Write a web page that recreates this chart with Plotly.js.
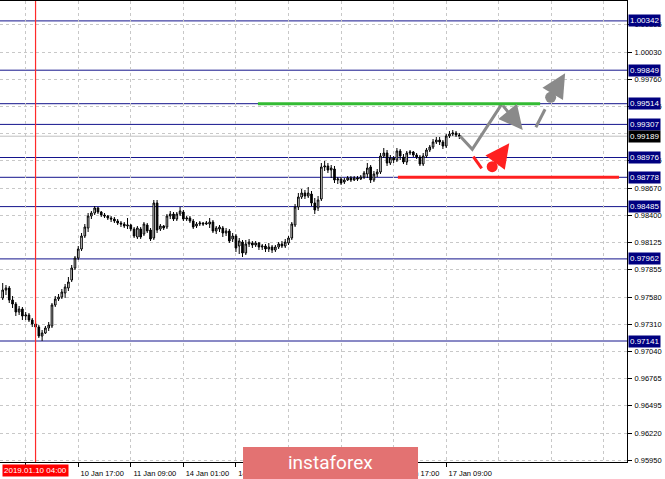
<!DOCTYPE html>
<html><head><meta charset="utf-8">
<script src="https://cdn.plot.ly/plotly-3.0.1.min.js"></script>
<style>html,body{margin:0;padding:0;background:#fff}#chart{width:665px;height:479px}</style>
</head><body><div id="chart"></div>
<script>
// EURCHF-like H1 candles, bar index 0 = 10 Jan 01:00 (weekend hours skipped)
const firstBar = -7;
const open  = [0.97571,0.97651,0.97671,0.97551,0.97511,0.97431,0.97461,0.97391,0.97401,0.97351,0.97311,0.97281,0.97191,0.97221,0.97271,0.97291,0.97501,0.97561,0.97581,0.97621,0.97671,0.97751,0.97871,0.97971,0.98061,0.98191,0.98271,0.98391,0.98421,0.98471,0.98431,0.98401,0.98391,0.98371,0.98361,0.98341,0.98321,0.98311,0.98291,0.98301,0.98261,0.98181,0.98261,0.98211,0.98301,0.98251,0.98171,0.98521,0.98261,0.98291,0.98281,0.98391,0.98411,0.98361,0.98411,0.98431,0.98361,0.98371,0.98341,0.98291,0.98311,0.98321,0.98311,0.98311,0.98331,0.98241,0.98261,0.98271,0.98221,0.98241,0.98161,0.98191,0.98091,0.98131,0.98021,0.98111,0.98121,0.98101,0.98121,0.98081,0.98091,0.98061,0.98081,0.98051,0.98081,0.98111,0.98091,0.98121,0.98171,0.98301,0.98481,0.98581,0.98621,0.98591,0.98611,0.98521,0.98471,0.98561,0.98881,0.98891,0.98851,0.98861,0.98751,0.98761,0.98731,0.98751,0.98771,0.98751,0.98771,0.98761,0.98781,0.98811,0.98881,0.98751,0.98811,0.98831,0.98991,0.99021,0.98921,0.98971,0.98951,0.99041,0.98981,0.98931,0.99021,0.99031,0.99001,0.98981,0.98911,0.98991,0.99051,0.99081,0.99131,0.99151,0.99131,0.99091,0.99191,0.99211,0.99221,0.99201];
const high  = [0.97721,0.97701,0.97691,0.97591,0.97531,0.97491,0.97481,0.97431,0.97421,0.97371,0.97341,0.97301,0.97251,0.97291,0.97331,0.97521,0.97591,0.97611,0.97661,0.97711,0.97781,0.97901,0.97991,0.98091,0.98221,0.98311,0.98421,0.98441,0.98491,0.98481,0.98441,0.98421,0.98401,0.98391,0.98381,0.98361,0.98341,0.98331,0.98371,0.98311,0.98281,0.98291,0.98281,0.98331,0.98321,0.98271,0.98551,0.98551,0.98311,0.98301,0.98411,0.98441,0.98431,0.98431,0.98481,0.98451,0.98391,0.98391,0.98361,0.98331,0.98341,0.98331,0.98341,0.98371,0.98351,0.98291,0.98301,0.98291,0.98271,0.98261,0.98221,0.98211,0.98171,0.98151,0.98151,0.98161,0.98141,0.98141,0.98131,0.98111,0.98111,0.98121,0.98101,0.98101,0.98131,0.98141,0.98161,0.98191,0.98331,0.98511,0.98621,0.98661,0.98651,0.98681,0.98641,0.98571,0.98591,0.98921,0.98941,0.98921,0.98901,0.98891,0.98781,0.98781,0.98771,0.98791,0.98791,0.98791,0.98791,0.98801,0.98841,0.98921,0.98901,0.98841,0.98861,0.99021,0.99071,0.99051,0.99001,0.98991,0.99071,0.99061,0.99011,0.99041,0.99051,0.99041,0.99021,0.99001,0.99021,0.99071,0.99101,0.99161,0.99181,0.99181,0.99151,0.99211,0.99241,0.99251,0.99241,0.99221];
const low   = [0.97551,0.97601,0.97521,0.97471,0.97391,0.97401,0.97351,0.97351,0.97331,0.97281,0.97251,0.97171,0.97141,0.97211,0.97241,0.97271,0.97481,0.97541,0.97561,0.97571,0.97641,0.97731,0.97851,0.97951,0.98041,0.98171,0.98231,0.98361,0.98401,0.98411,0.98381,0.98371,0.98351,0.98331,0.98321,0.98301,0.98281,0.98271,0.98261,0.98241,0.98171,0.98161,0.98161,0.98191,0.98221,0.98141,0.98151,0.98221,0.98241,0.98251,0.98261,0.98361,0.98341,0.98341,0.98391,0.98341,0.98341,0.98321,0.98261,0.98271,0.98291,0.98291,0.98301,0.98271,0.98221,0.98211,0.98231,0.98181,0.98191,0.98121,0.98131,0.98031,0.98011,0.97981,0.98001,0.98081,0.98071,0.98081,0.98051,0.98051,0.98031,0.98031,0.98021,0.98031,0.98061,0.98071,0.98071,0.98101,0.98151,0.98281,0.98451,0.98561,0.98561,0.98571,0.98491,0.98411,0.98441,0.98541,0.98841,0.98821,0.98771,0.98721,0.98711,0.98701,0.98711,0.98741,0.98731,0.98741,0.98741,0.98751,0.98761,0.98771,0.98721,0.98731,0.98781,0.98811,0.98971,0.98891,0.98901,0.98921,0.98931,0.98951,0.98911,0.98901,0.99001,0.98981,0.98961,0.98891,0.98891,0.98971,0.99031,0.99061,0.99111,0.99101,0.99061,0.99071,0.99171,0.99191,0.99181,0.99161];
const close = [0.97651,0.97671,0.97551,0.97511,0.97431,0.97461,0.97391,0.97401,0.97351,0.97311,0.97281,0.97191,0.97221,0.97271,0.97301,0.97501,0.97561,0.97581,0.97631,0.97681,0.97731,0.97871,0.97971,0.98061,0.98191,0.98281,0.98391,0.98421,0.98471,0.98431,0.98401,0.98391,0.98371,0.98361,0.98341,0.98321,0.98311,0.98291,0.98301,0.98261,0.98191,0.98271,0.98181,0.98311,0.98241,0.98161,0.98521,0.98251,0.98291,0.98271,0.98391,0.98411,0.98361,0.98411,0.98441,0.98361,0.98371,0.98341,0.98281,0.98311,0.98321,0.98311,0.98321,0.98331,0.98241,0.98271,0.98281,0.98221,0.98241,0.98141,0.98191,0.98071,0.98141,0.98021,0.98111,0.98131,0.98101,0.98121,0.98081,0.98091,0.98061,0.98081,0.98051,0.98081,0.98111,0.98091,0.98131,0.98171,0.98311,0.98481,0.98581,0.98621,0.98591,0.98621,0.98521,0.98451,0.98551,0.98881,0.98891,0.98851,0.98871,0.98751,0.98761,0.98721,0.98751,0.98771,0.98751,0.98771,0.98761,0.98781,0.98821,0.98871,0.98751,0.98811,0.98831,0.98991,0.99021,0.98921,0.98971,0.98951,0.99041,0.98991,0.98931,0.99021,0.99031,0.99001,0.98981,0.98911,0.98991,0.99051,0.99081,0.99131,0.99151,0.99131,0.99091,0.99191,0.99211,0.99221,0.99201,0.99191];

const xTickIdx  = [0, 16, 32, 48, 64, 80, 96, 112, 128];
const xTickText = ["","10 Jan 17:00","11 Jan 09:00","14 Jan 01:00","14 Jan 17:00","15 Jan 09:00","16 Jan 01:00","16 Jan 17:00","17 Jan 09:00"];
const xGridIdx  = [0, 16, 32, 48, 64, 80, 96, 112, 128, 144, 160, 176];
const yTickVals = [0.95950,0.96220,0.96495,0.96765,0.97040,0.97310,0.97580,0.97855,0.98125,0.98400,0.98670,0.98945,0.99485,0.99760,1.00030,1.00305];
const yGridVals = [0.95950,0.96220,0.96495,0.96765,0.97040,0.97310,0.97580,0.97855,0.98125,0.98400,0.98670,0.98945,0.99215,0.99485,0.99760,1.00030,1.00305];
const levels = [1.00342, 0.99849, 0.99514, 0.99307, 0.98976, 0.98778, 0.98485, 0.97962, 0.97141];
const currentPrice = 0.99189;
const cursorBar = 3, cursorLabel = "2019.01.10 04:00";
// forecast drawings (bar index, price)
const greenLineX = [70.7, 156.6], greenLineY = 0.99514;
const redLineX = [113.3, 180.6], redLineY = 0.98778;
const grayPathX = [132.2, 135.95, 144.9], grayPathY = [0.99191, 0.99058, 0.99510];
const grayArrow1 = {fromX: 144.9, fromY: 0.99510, toX: 151.3, toY: 0.99251};
const grayDashX = [155.3, 158.1], grayDashY = [0.99278, 0.99458];
const grayDot = {x: 159.8, y: 0.99578}, grayArrow2 = {toX: 164.2, toY: 0.99818};
const redSegX = [136.25, 138.8], redSegY = [0.98984, 0.98868];
const redDot = {x: 142.0, y: 0.98884}, redArrow = {toX: 147.2, toY: 0.99118};

const xs = open.map((_, k) => firstBar + k);
const F = 'Liberation Sans, Arial, sans-serif';
const NAVY = '#14148c', GRAY = '#8a8a8a', RED = '#ff2020';

const traces = [
  {type: 'candlestick', x: xs, open: open, high: high, low: low, close: close,
   increasing: {line: {color: '#000', width: 1}, fillcolor: '#ffffff'},
   decreasing: {line: {color: '#000', width: 1}, fillcolor: '#000000'},
   whiskerwidth: 0, hoverinfo: 'skip', showlegend: false},
  {type: 'scatter', mode: 'lines', x: [cursorBar, cursorBar], y: [0.95931, 1.00541], line: {color: '#ff2a2a', width: 1.2}, hoverinfo: 'skip', showlegend: false, cliponaxis: true},
  {type: 'scatter', mode: 'lines', x: grayPathX, y: grayPathY, line: {color: GRAY, width: 3}, hoverinfo: 'skip', showlegend: false},
  {type: 'scatter', mode: 'lines', x: grayDashX, y: grayDashY, line: {color: GRAY, width: 3}, hoverinfo: 'skip', showlegend: false},
  {type: 'scatter', mode: 'lines', x: redSegX, y: redSegY, line: {color: RED, width: 3}, hoverinfo: 'skip', showlegend: false},
  {type: 'scatter', mode: 'markers', x: [grayDot.x], y: [grayDot.y], marker: {color: GRAY, size: 11}, hoverinfo: 'skip', showlegend: false},
  {type: 'scatter', mode: 'markers', x: [redDot.x], y: [redDot.y], marker: {color: RED, size: 11}, hoverinfo: 'skip', showlegend: false}
];

const shapes = [];
levels.forEach(v => shapes.push({type: 'line', xref: 'paper', x0: 0, x1: 1, yref: 'y', y0: v, y1: v, line: {color: NAVY, width: 1}, layer: 'between'}));
shapes.push({type: 'line', xref: 'paper', x0: 0, x1: 1, yref: 'y', y0: currentPrice, y1: currentPrice, line: {color: '#c0c0c0', width: 1}, layer: 'between'});
shapes.push({type: 'line', x0: greenLineX[0], x1: greenLineX[1], y0: greenLineY, y1: greenLineY, line: {color: '#33bb33', width: 3}, layer: 'above'});
shapes.push({type: 'line', x0: redLineX[0], x1: redLineX[1], y0: redLineY, y1: redLineY, line: {color: RED, width: 3}, layer: 'above'});
shapes.push({type: 'rect', xref: 'paper', yref: 'paper', x0: 0.3876, x1: 0.6667, y0: -0.05, y1: 0.0325, fillcolor: '#e37272', line: {width: 0}, layer: 'above'});

const annotations = [];
levels.forEach(v => annotations.push({xref: 'paper', x: 1, xanchor: 'left', xshift: 1, yref: 'y', y: v, yanchor: 'middle',
  text: v.toFixed(5), showarrow: false, bgcolor: '#000080', borderpad: 1, font: {family: F, size: 8, color: '#fff'}}));
annotations.push({xref: 'paper', x: 1, xanchor: 'left', xshift: 1, yref: 'y', y: currentPrice, yanchor: 'middle',
  text: currentPrice.toFixed(5), showarrow: false, bgcolor: '#000000', borderpad: 1, font: {family: F, size: 8, color: '#fff'}});
annotations.push({xref: 'x', x: cursorBar, xanchor: 'center', yref: 'paper', y: 0, yanchor: 'top', yshift: -2,
  text: cursorLabel, showarrow: false, bgcolor: '#ff0000', borderpad: 1, font: {family: F, size: 8, color: '#fff'}});
annotations.push({xref: 'paper', x: 0.527, xanchor: 'center', yref: 'paper', y: -0.002, yanchor: 'middle',
  text: 'instaforex', showarrow: false, font: {family: 'Roboto, sans-serif', size: 19, color: '#fff'}});
function arrow(fx, fy, tx, ty, color) {
  return {x: tx, y: ty, ax: fx, ay: fy, xref: 'x', yref: 'y', axref: 'x', ayref: 'y', text: '', showarrow: true,
    arrowhead: 2, arrowsize: 1.6, arrowwidth: 3, arrowcolor: color, standoff: 0, startstandoff: 0};
}
annotations.push(arrow(grayArrow1.fromX, grayArrow1.fromY, grayArrow1.toX, grayArrow1.toY, GRAY));
annotations.push(arrow(grayDot.x, grayDot.y, grayArrow2.toX, grayArrow2.toY, GRAY));
annotations.push(arrow(redDot.x, redDot.y, redArrow.toX, redArrow.toY, RED));

const layout = {
  width: 665, height: 479,
  margin: {l: 0, r: 38, t: 1, b: 17, pad: 0},
  paper_bgcolor: '#ffffff', plot_bgcolor: '#ffffff',
  showlegend: false, hovermode: false,
  xaxis: {range: [-7.82, 183.04], rangeslider: {visible: false}, tickmode: 'array', tickvals: xTickIdx, ticktext: xTickText,
    ticks: 'outside', ticklen: 4, tickcolor: '#000', tickwidth: 1, ticklabelshift: 24, ticklabelstandoff: 0,
    tickfont: {family: F, size: 7.5, color: '#000'}, showgrid: false, zeroline: false,
    showline: true, linecolor: '#000', linewidth: 1, mirror: true,
    minor: {tickmode: 'array', tickvals: xGridIdx, ticks: '', showgrid: true, gridcolor: '#c8c8c8', gridwidth: 1, griddash: '3px,3px'}},
  yaxis: {range: [0.95931, 1.00541], side: 'right', tickmode: 'array', tickvals: yTickVals, ticktext: yTickVals.map(v => v.toFixed(5)),
    ticks: 'outside', ticklen: 4, tickcolor: '#000', tickwidth: 1, ticklabelstandoff: 1,
    tickfont: {family: F, size: 7.5, color: '#000'}, showgrid: false,
    zeroline: false, showline: true, linecolor: '#000', linewidth: 1, mirror: true,
    minor: {tickmode: 'array', tickvals: yGridVals, ticks: '', showgrid: true, gridcolor: '#c8c8c8', gridwidth: 1, griddash: '3px,3px'}},
  shapes: shapes, annotations: annotations
};
Plotly.newPlot('chart', traces, layout, {displayModeBar: false, staticPlot: true});
</script></body></html>
